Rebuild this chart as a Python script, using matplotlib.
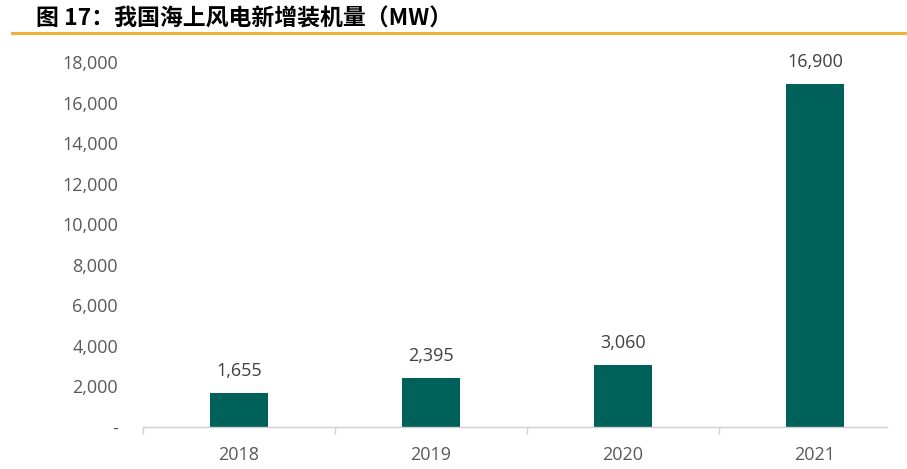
import matplotlib.pyplot as plt
import numpy as np

years = ["2018", "2019", "2020", "2021"]
capacity = [1655, 2395, 3060, 16900]
yticks = [0, 2000, 4000, 6000, 8000, 10000, 12000, 14000, 16000, 18000]
ytick_labels = ["-", "2,000", "4,000", "6,000", "8,000", "10,000", "12,000",
                "14,000", "16,000", "18,000"]

title = "图 17：我国海上风电新增装机量（MW）"

plt.rcParams['font.family'] = ['Noto Sans CJK SC', 'DejaVu Sans']

fig = plt.figure(figsize=(9.07, 4.69), dpi=100)

# title and orange rule
fig.text(0.040, 0.960, title, fontsize=16.5, fontweight='bold', color='black',
         va='center', ha='left')
fig.add_artist(plt.Line2D([0.013, 1.0], [0.930, 0.930], color='#F0B23A', lw=2.2))

ax = fig.add_axes([143 / 907, 1 - 427 / 469, (887 - 143) / 907, (427 - 62) / 469])
x = np.arange(len(years))
ax.bar(x, capacity, width=0.30, color='#00605A')

for xi, v in zip(x, capacity):
    ax.text(xi, v + 650, f"{v:,}", ha='center', va='bottom', fontsize=13,
            color='#404040', family=['Open Sans', 'DejaVu Sans'])

ax.set_xlim(-0.5, 3.375)
ax.set_ylim(0, 18000)
ax.set_yticks(yticks)
ax.set_yticklabels(ytick_labels)
ax.set_xticks(x)
ax.set_xticklabels(years)
ax.set_xticks(np.arange(-0.5, 3.5, 1.0), minor=True)

for lab in ax.get_xticklabels() + ax.get_yticklabels():
    lab.set_family(['Open Sans', 'DejaVu Sans'])
    lab.set_fontsize(13)
    lab.set_color('#595959')

ax.tick_params(axis='y', length=0, pad=18)
ax.tick_params(axis='x', which='major', length=0, pad=14)
ax.tick_params(axis='x', which='minor', length=5, color='#D0D0D0', width=1)

for s in ['top', 'right', 'left']:
    ax.spines[s].set_visible(False)
ax.spines['bottom'].set_color('#D0D0D0')
ax.spines['bottom'].set_linewidth(1)

fig.savefig("out.png", dpi=100)
